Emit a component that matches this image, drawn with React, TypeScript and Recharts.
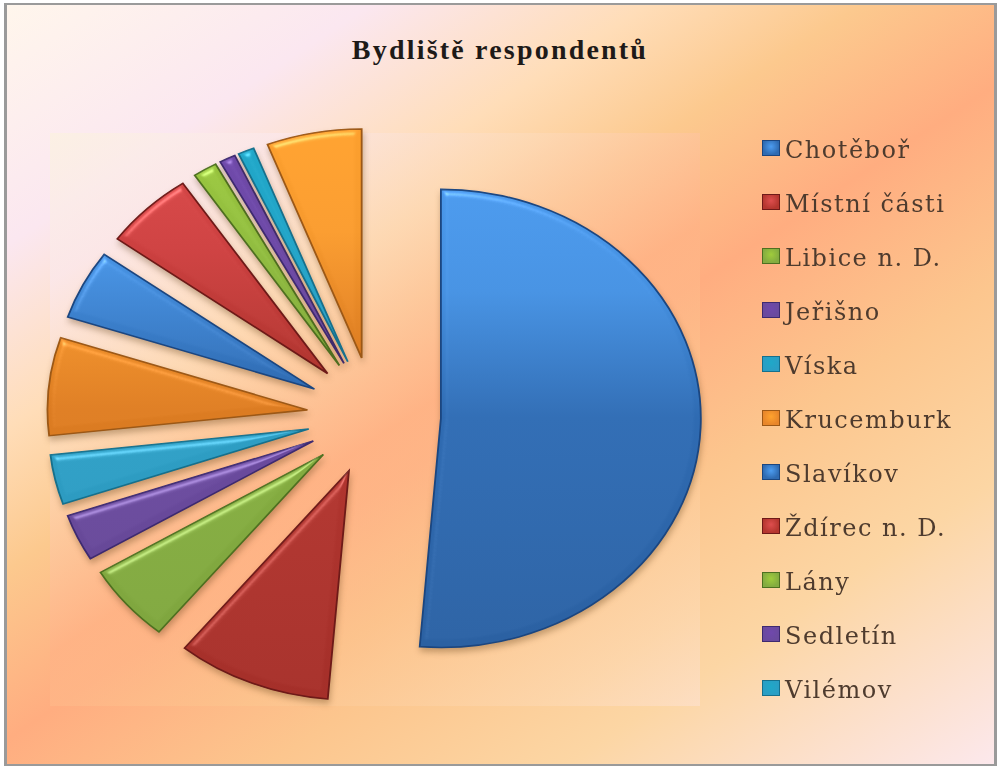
import React from "react";
import { PieChart, Pie, Sector, Legend } from "recharts";

const chartTitle = "Bydliště respondentů";
const categories = ["Chotěboř", "Místní části", "Libice n. D.", "Jeřišno", "Víska", "Krucemburk", "Slavíkov", "Ždírec n. D.", "Lány", "Sedletín", "Vilémov", ""];
const shares = [51.3, 9.6, 5.5, 3.3, 3.5, 6.9, 4.9, 5.6, 1.5, 1.0, 1.0, 5.9];
const palette = ["#2F6BB2", "#B5362F", "#84AC40", "#6A4A9E", "#2A9EC4", "#E8862A"];
const strokes = ["#1B4680", "#6E1A18", "#4E7020", "#3E2A70", "#16708C", "#9C5816"];
const gradientStops: string[][] = [
  ["#4C9CF0", "#4590E0", "#2F6BB2", "#2A5E9E"],
  ["#DE4E4E", "#CC4040", "#B0352F", "#A22E28"],
  ["#A0CC3C", "#92BE40", "#84AC40", "#7CA23E"],
  ["#7048AC", "#6E4AA8", "#6A4A9E", "#62468F"],
  ["#1FA8C8", "#22A5C8", "#2E9EC4", "#2A92B8"],
  ["#FFA32E", "#F79A2E", "#DC7C22", "#CF7420"],
];

const pieData = shares.map((value, i) => ({
  name: categories[i],
  value,
  fill: palette[i % palette.length],
}));

const SCALE_X = 1.135;
const EXPLODE = 59;

function ExplodedSlice(props: any) {
  const { cx, cy, midAngle, fill, outerRadius, innerRadius, startAngle, endAngle } = props;
  const rad = (midAngle * Math.PI) / 180;
  const dx = EXPLODE * Math.cos(rad) * SCALE_X;
  const dy = -EXPLODE * Math.sin(rad);
  const idx = palette.indexOf(fill);
  return (
    <g filter="url(#bevel)" transform={`translate(${cx + dx} ${cy + dy}) scale(${SCALE_X} 1) translate(${-cx} ${-cy})`}>
      <Sector
        cx={cx}
        cy={cy}
        innerRadius={innerRadius}
        outerRadius={outerRadius}
        startAngle={startAngle}
        endAngle={endAngle}
        fill={`url(#grad${idx})`}
        stroke={strokes[idx]}
        strokeWidth={1.6}
      />
    </g>
  );
}

function LegendList(props: any) {
  const items = (props.payload || []).filter((p: any) => p.value);
  return (
    <div style={{ display: "flex", flexDirection: "column" }}>
      {items.map((p: any, i: number) => {
        const idx = i % palette.length;
        return (
          <div key={p.value} style={{ display: "flex", alignItems: "center", height: 54 }}>
            <span
              style={{
                width: 16,
                height: 14,
                marginRight: 5,
                marginTop: -4,
                border: `1px solid ${strokes[idx]}`,
                background: `radial-gradient(circle at 50% 40%, ${gradientStops[idx][0]}, ${palette[idx]} 70%)`,
                display: "inline-block",
              }}
            />
            <span
              style={{
                fontFamily: "'DejaVu Serif', serif",
                fontSize: 24,
                letterSpacing: 1.5,
                color: "#4E3B2E",
                whiteSpace: "nowrap",
              }}
            >
              {p.value}
            </span>
          </div>
        );
      })}
    </div>
  );
}

const bgGradient =
  "linear-gradient(146.5deg, #FFF6EC 0%, #FBE7F0 17%, #FFDDB8 30%, #FCC98E 40%, #FFAD80 52%, #FCC68E 66%, #FCD6A4 80%, #FCE8EC 100%)";

export default function App() {
  return (
    <div style={{ position: "absolute", left: 0, top: 0, width: 1003, height: 771, background: "#fff", overflow: "hidden" }}>
      <div style={{ filter: "blur(0.6px)", position: "absolute", inset: 0 }}>
        <div
          style={{
            position: "absolute",
            left: 4,
            top: 3,
            width: 993,
            height: 763,
            boxSizing: "border-box",
            borderStyle: "solid",
            borderColor: "#9A9A9A",
            borderWidth: "2px 3px 2px 3px",
            background: bgGradient,
          }}
        />
        <div
          style={{
            position: "absolute",
            left: 50,
            top: 133,
            width: 650,
            height: 573,
            background:
              "linear-gradient(146.5deg, #FBF2DF 0%, #FBE8EC 15%, #FDDAB8 32%, #FFB286 52%, #FCC58E 70%, #FDD8B0 90%, #FDE0CC 100%)",
            opacity: 0.7,
          }}
        />
        <div style={{ position: "absolute", left: 0, top: 0 }}>
          <PieChart width={1003} height={771} margin={{ top: 0, right: 0, bottom: 0, left: 0 }}>
            <defs>
              {gradientStops.map((stops, i) => (
                <linearGradient key={i} id={`grad${i}`} gradientUnits="userSpaceOnUse" x1="0" y1="130" x2="0" y2="700">
                  <stop offset="0%" stopColor={stops[0]} />
                  <stop offset="28%" stopColor={stops[1]} />
                  <stop offset="50%" stopColor={stops[2]} />
                  <stop offset="100%" stopColor={stops[3]} />
                </linearGradient>
              ))}
              <filter id="bevel" x="-40%" y="-40%" width="180%" height="180%" colorInterpolationFilters="sRGB">
                <feGaussianBlur in="SourceAlpha" stdDeviation="3.5" result="blur" />
                <feSpecularLighting in="blur" surfaceScale="6" specularConstant="0.8" specularExponent="22" lightingColor="#ffffff" result="spec">
                  <feDistantLight azimuth="250" elevation="32" />
                </feSpecularLighting>
                <feComposite in="spec" in2="SourceAlpha" operator="in" result="specIn" />
                <feComposite in="SourceGraphic" in2="specIn" operator="arithmetic" k1="0" k2="1" k3="0.32" k4="0" result="lit" />
                <feGaussianBlur in="SourceAlpha" stdDeviation="3" result="sb" />
                <feOffset in="sb" dx="1" dy="4" result="so" />
                <feFlood floodColor="#5A3A10" floodOpacity="0.35" result="sc" />
                <feComposite in="sc" in2="so" operator="in" result="shadow" />
                <feMerge>
                  <feMergeNode in="shadow" />
                  <feMergeNode in="lit" />
                </feMerge>
              </filter>
            </defs>
            <text
              x={500}
              y={59}
              textAnchor="middle"
              fontFamily="'Liberation Serif', serif"
              fontWeight="bold"
              fontSize={28}
              letterSpacing={2.2}
              fill="#1E1A18"
            >
              {chartTitle}
            </text>
            <Pie
              data={pieData}
              dataKey="value"
              nameKey="name"
              cx={374}
              cy={416}
              innerRadius={0}
              outerRadius={229}
              startAngle={90}
              endAngle={-270}
              stroke="none"
              isAnimationActive={false}
              label={false}
              labelLine={false}
              shape={ExplodedSlice}
            />
            <Legend
              layout="vertical"
              align="right"
              verticalAlign="top"
              itemSorter={null}
              content={LegendList}
              wrapperStyle={{ position: "absolute", left: 762, top: 123, width: 240 }}
            />
          </PieChart>
        </div>
      </div>
    </div>
  );
}
